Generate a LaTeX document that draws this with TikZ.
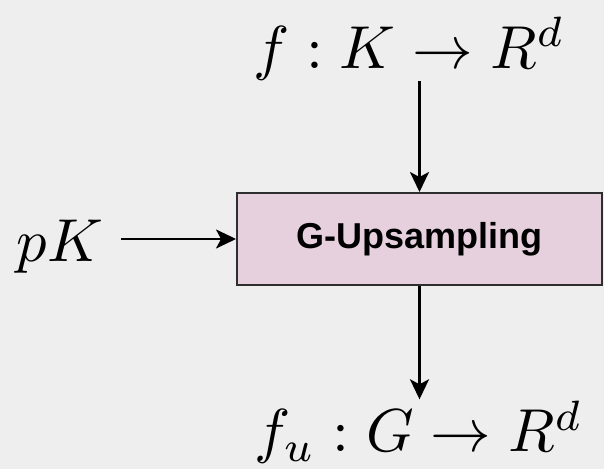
\documentclass[tikz,border=0pt]{standalone}
\usepackage{fontspec}
\newfontfamily\blockfont{Liberation Sans}
\usepackage{tikz}
\usetikzlibrary{arrows.meta, positioning}
\definecolor{bgcolor}{HTML}{EEEEEE}
\definecolor{upcolor}{HTML}{E6D0DE}
\definecolor{edgecolor}{HTML}{2E2E2E}

\begin{document}
\begin{tikzpicture}[
    block/.style={draw=edgecolor, line width=1.1pt, fill=upcolor, minimum width=7.3cm, minimum height=1.84cm, inner sep=0pt, font=\blockfont\bfseries\fontsize{20.5}{24}\selectfont},
    term/.style={inner sep=0pt, anchor=base, scale=3.45, transform shape},
    flow/.style={-{Stealth[length=0.4cm, width=0.38cm, inset=0.1cm]}, line width=1.5pt, black}
]
  % Canvas
  \fill[bgcolor] (0, 0) rectangle (12.08, -9.38);
  \useasboundingbox (0, 0) rectangle (12.08, -9.38);

  % Upsampling block
  \node[block] (UP) at (8.39, -4.78) {G-Upsampling};

  % Signal, grid and result
  \node[term] (FK) at (8.18, -1.36) {$f : K \to R^d$};
  \node[term] (PK) at (1.2, -5.24) {$pK$};
  \node[term] (FU) at (8.37, -9.04) {$f_u : G \to R^d$};

  \draw[flow] (UP.north |- FK.south) -- (UP.north);
  \draw[flow, shorten <=0.34cm] (PK.east |- UP.west) -- (UP.west);
  \draw[flow] (UP.south) -- (UP.south |- FU.north);
\end{tikzpicture}
\end{document}
